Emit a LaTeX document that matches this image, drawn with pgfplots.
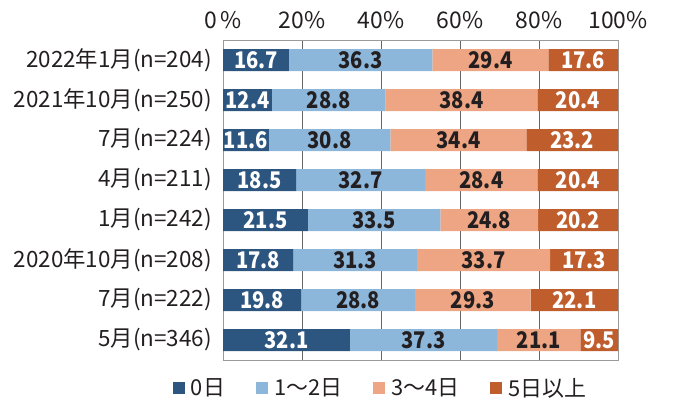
\documentclass[border=0pt]{standalone}
\usepackage{fontspec}
\setmainfont{Noto Sans CJK JP}
\usepackage{pgfplots}
\pgfplotsset{compat=1.18}
\usepackage{pgfplotstable}
\definecolor{cA}{HTML}{2C5680}
\definecolor{cB}{HTML}{8DB6DB}
\definecolor{cC}{HTML}{EEA584}
\definecolor{cD}{HTML}{C05D2C}
\definecolor{gridc}{HTML}{666666}
\definecolor{axisc}{HTML}{9A9A9A}
\definecolor{txt}{HTML}{231F20}
\pgfplotstableread{
idx a b c d
1 16.7 36.3 29.4 17.6
2 12.4 28.8 38.4 20.4
3 11.6 30.8 34.4 23.2
4 18.5 32.7 28.4 20.4
5 21.5 33.5 24.8 20.2
6 17.8 31.3 33.7 17.3
7 19.8 28.8 29.3 22.1
8 32.1 37.3 21.1 9.5
}\data
% label positions: centre of each segment
\pgfplotstablecreatecol[create col/expr={\thisrow{a}/2}]{ma}\data
\pgfplotstablecreatecol[create col/expr={\thisrow{a}+\thisrow{b}/2}]{mb}\data
\pgfplotstablecreatecol[create col/expr={\thisrow{a}+\thisrow{b}+\thisrow{c}/2}]{mc}\data
\pgfplotstablecreatecol[create col/expr={\thisrow{a}+\thisrow{b}+\thisrow{c}+\thisrow{d}/2}]{md}\data
\pgfplotsset{
 common/.style={
  at={(223bp,43bp)}, anchor=south west,
  scale only axis, width=395bp, height=320bp,
  xmin=0, xmax=100, ymin=0.5, ymax=8.5, y dir=reverse,
 },
 lbl/.style={only marks, mark=*, mark size=0pt, mark options={draw=none,fill=none},
  nodes near coords={\scalebox{0.88}[1]{\pgfplotspointmeta}}, point meta=explicit symbolic,
  nodes near coords style={anchor=center, inner sep=0pt, text=#1,
    font=\fontsize{23}{27}\selectfont\bfseries}},
}
\begin{document}
\begin{tikzpicture}
\useasboundingbox (0,0) rectangle (673bp,403bp);
\begin{axis}[common,
 xbar stacked, bar width=22bp,
 xtick={0,20,40,60,80,100},
 xticklabels={0\,\%,20\%,40\%,60\%,80\%,100\%},
 xticklabel pos=upper,
 ytick={1,...,8},
 yticklabels={2022年1月(n=204),2021年10月(n=250),7月(n=224),4月(n=211),1月(n=242),2020年10月(n=208),7月(n=222),5月(n=346)},
 major tick length=0pt,
 xmajorgrids, grid style={color=gridc, line width=0.6pt},
 axis line style={color=axisc, line width=0.9pt},
 x tick label style={font=\fontsize{23}{27}\selectfont, text=txt, anchor=center, inner sep=0pt, yshift=20bp},
 y tick label style={font=\fontsize{22.5}{27}\selectfont, text=txt, anchor=east, inner sep=0pt, xshift=-11bp},
 legend style={at={(0.399,-0.0875)}, anchor=center, legend columns=4, draw=none, fill=none,
   font=\fontsize{22}{26}\selectfont, text=txt, inner sep=0pt,
   /tikz/every odd column/.append style={column sep=4bp},
   /tikz/every even column/.append style={column sep=29bp}},
 legend image code/.code={\fill (0bp,-6bp) rectangle (12bp,6bp);},
]
\addplot[fill=cA, draw=none] table[x=a, y=idx] {\data};
\addplot[fill=cB, draw=none] table[x=b, y=idx] {\data};
\addplot[fill=cC, draw=none] table[x=c, y=idx] {\data};
\addplot[fill=cD, draw=none] table[x=d, y=idx] {\data};
\legend{0日,1〜2日,3〜4日,5日以上}
\end{axis}
\begin{axis}[common, hide axis, clip=false]
\addplot[lbl=white] table[x=ma, y=idx, meta=a] {\data};
\addplot[lbl=txt] table[x=mb, y=idx, meta=b] {\data};
\addplot[lbl=txt] table[x=mc, y=idx, meta=c] {\data};
\addplot[lbl=white] table[x=md, y=idx, meta=d] {\data};
\end{axis}
\end{tikzpicture}
\end{document}
